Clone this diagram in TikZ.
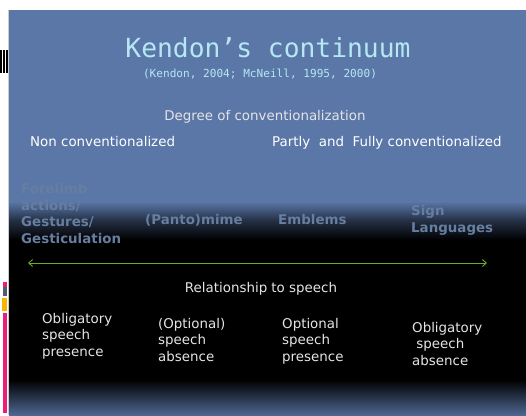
\documentclass[tikz,border=0pt]{standalone}
\usepackage{fontspec}
\setmainfont{DejaVu Sans}
\newfontfamily\titlemono{DejaVu Sans Mono}
\usetikzlibrary{arrows.meta}
\definecolor{slideblue}{RGB}{90,119,168}
\definecolor{midblue}{RGB}{38,50,72}
\definecolor{botblue}{RGB}{78,102,145}
\definecolor{titlecyan}{RGB}{182,232,242}
\definecolor{labelgray}{RGB}{102,126,160}
\definecolor{bodywhite}{RGB}{228,228,228}
\definecolor{arrowgreen}{RGB}{104,172,44}
\definecolor{barpink}{RGB}{232,32,122}
\definecolor{bargray}{RGB}{80,95,112}
\definecolor{baryellow}{RGB}{246,182,0}
\tikzset{
  body/.style={inner sep=0pt, text=bodywhite, align=left, font=\fontsize{13.4bp}{16.5bp}\selectfont},
  catlabel/.style={inner sep=0pt, text=labelgray, align=left, font=\fontsize{13.4bp}{16.5bp}\selectfont\bfseries},
  axislabel/.style={inner sep=0pt, text=bodywhite, font=\fontsize{13.4bp}{16.5bp}\selectfont},
}
\begin{document}
\begin{tikzpicture}[x=1bp,y=1bp]
\useasboundingbox (0,0) rectangle (526,415);
\fill[white] (0,0) rectangle (526,415);
% slide background
\fill[slideblue] (9,213) rectangle (526,405);
\shade[top color=slideblue, bottom color=midblue] (9,195) rectangle (526,213.5);
\shade[top color=midblue, bottom color=black] (9,175) rectangle (526,195.5);
\fill[black] (9,35) rectangle (526,175.5);
\shade[top color=black, bottom color=botblue] (9,0) rectangle (526,35.5);
\draw[black!20, line width=0.6bp] (8.7,0) -- (8.7,405);
% left decorations
\fill[black] (0,342) rectangle (2,365);
\fill[black] (3,342) rectangle (5,365);
\fill[black] (6,342) rectangle (8,365);
\fill[barpink] (3,128) rectangle (7,133);
\fill[bargray] (3,119) rectangle (7,128);
\fill[baryellow] (2,104) rectangle (7,117);
\fill[barpink] (3,2) rectangle (7,102);
% titles
\node[inner sep=0pt, anchor=base, text=titlecyan, font=\titlemono\fontsize{26.3bp}{30bp}\selectfont] (title) at (268,358) {Kendon’s continuum};
\node[inner sep=0pt, anchor=base, text=titlecyan, font=\titlemono\fontsize{11.1bp}{13bp}\selectfont] (subtitle) at (260,338) {(Kendon, 2004; McNeill, 1995, 2000)};
% conventionalization axis
\node[axislabel, anchor=base] (degree) at (265,295) {Degree of conventionalization};
\node[axislabel, anchor=base west, text=white] (nonconv) at (30,269) {Non conventionalized};
\node[axislabel, anchor=base west, text=white] (partconv) at (272,269) {Partly\ \ and\ \ Fully conventionalized};
% categories (base anchor = last line)
\node[catlabel, anchor=base west] (gest) at (21,172) {Forelimb\\actions/\\Gestures/\\Gesticulation};
\node[catlabel, anchor=base west] (panto) at (145,191) {(Panto)mime};
\node[catlabel, anchor=base west] (emblems) at (278,191) {Emblems};
\node[catlabel, anchor=base west] (sign) at (411,183) {Sign\\Languages};
% continuum arrow
\coordinate (aleft) at (28,152);
\coordinate (aright) at (487,152);
\draw[arrowgreen, line width=0.9bp, {Straight Barb[length=4bp,width=7bp]}-{Straight Barb[length=4bp,width=7bp]}] (aleft) -- (aright);
% relationship to speech
\node[axislabel, anchor=base] (relation) at (261,123) {Relationship to speech};
\node[body, anchor=base west] (c1) at (42,59) {Obligatory\\speech\\presence};
\node[body, anchor=base west] (c2) at (158,54) {(Optional)\\speech\\absence};
\node[body, anchor=base west] (c3) at (282,54) {Optional\\speech\\presence};
\node[body, anchor=base west] (c4) at (412,50) {Obligatory\\\ speech\\absence};
\end{tikzpicture}
\end{document}
